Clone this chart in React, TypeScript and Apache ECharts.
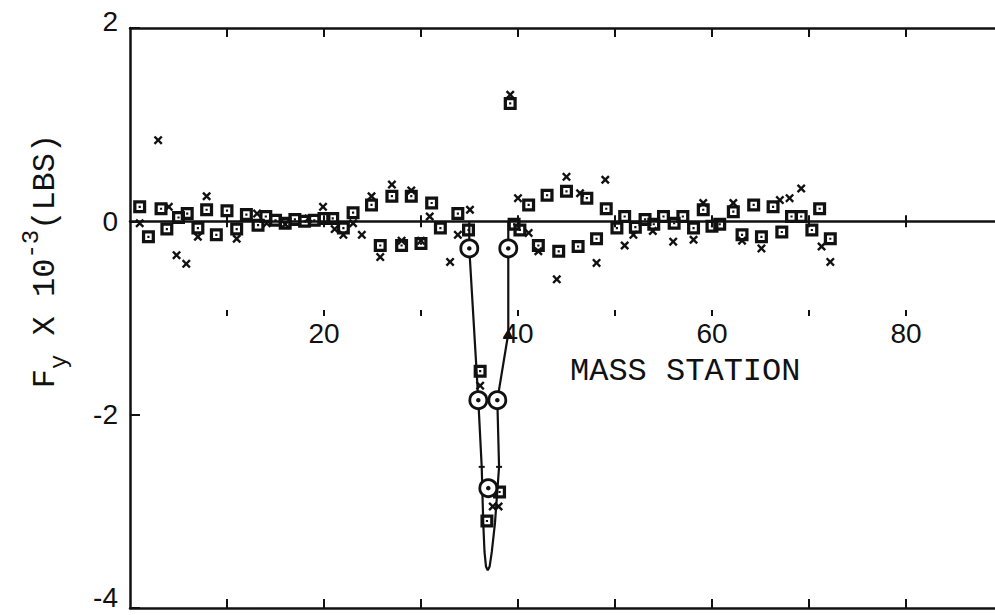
import React, { useEffect, useRef } from "react";
import * as echarts from "echarts";

// ---- axis ticks / labels ----
const xTickValues = [10, 20, 30, 40, 50, 60, 70, 80];
const xLabelValues = [20, 40, 60, 80];
const X_MIN = 0;
const X_MAX = 89.18;
const Y_MIN = -4;
const Y_MAX = 2;
const Y_STEP = 2;

// ---- measured points (squares) ----
const squareStations = [
  1.0, 1.9, 3.2, 3.8, 5.0, 5.9, 7.0, 7.9, 8.9, 10.0, 11.0, 12.0, 13.2, 14.0, 15.0, 16.0, 17.0, 18.0,
  19.0, 20.0, 20.9, 22.0, 23.0, 24.9, 25.8, 27.0, 28.0, 29.0, 30.0, 31.1, 32.0, 33.8, 34.9, 36.1,
  36.8, 38.1, 39.2, 39.6, 40.2, 41.1, 42.1, 43.0, 44.2, 45.0, 46.2, 47.1, 48.1, 49.1, 50.2, 51.0,
  52.1, 53.1, 54.0, 55.0, 56.1, 57.0, 58.1, 59.1, 60.0, 60.8, 62.2, 63.1, 64.3, 65.1, 66.3, 67.2,
  68.2, 69.2, 70.3, 71.1, 72.2,
];
const squareForces = [
  0.15, -0.16, 0.13, -0.08, 0.04, 0.08, -0.07, 0.12, -0.14, 0.11, -0.08, 0.07, -0.04, 0.05, 0.01,
  -0.02, 0.02, 0.0, 0.01, 0.03, 0.03, -0.07, 0.09, 0.17, -0.25, 0.26, -0.25, 0.26, -0.23, 0.19,
  -0.07, 0.08, -0.09, -1.55, -3.1, -2.8, 1.22, -0.03, -0.09, 0.17, -0.25, 0.27, -0.31, 0.31, -0.26,
  0.24, -0.18, 0.13, -0.07, 0.05, -0.06, 0.02, -0.03, 0.05, -0.02, 0.05, -0.07, 0.12, -0.05, -0.03,
  0.1, -0.14, 0.17, -0.16, 0.15, -0.11, 0.05, 0.05, -0.09, 0.13, -0.18,
];

// ---- measured points (crosses) ----
const crossStations = [
  1.0, 2.9, 4.0, 4.8, 5.8, 7.0, 7.9, 11.0, 13.1, 14.1, 16.0, 18.4, 19.9, 21.1, 22.0, 23.0, 23.9,
  24.9, 25.8, 27.0, 28.0, 29.0, 30.0, 30.9, 33.0, 33.8, 35.05, 36.1, 37.4, 38.0, 39.2, 40.0, 41.1,
  42.1, 44.0, 45.0, 46.4, 48.1, 49.0, 51.0, 51.9, 53.9, 56.0, 58.1, 59.1, 62.2, 63.1, 65.1, 67.0,
  68.0, 69.2, 71.3, 72.2,
];
const crossForces = [
  -0.02, 0.84, 0.15, -0.35, -0.44, -0.16, 0.26, -0.18, 0.08, -0.02, -0.03, 0.03, 0.15, -0.08, -0.14,
  -0.02, -0.14, 0.26, -0.37, 0.38, -0.2, 0.32, -0.2, 0.05, -0.42, -0.14, 0.12, -1.7, -2.95, -2.95,
  1.31, 0.24, -0.12, -0.31, -0.6, 0.46, 0.29, -0.43, 0.43, -0.25, -0.14, -0.1, -0.21, -0.19, 0.19,
  0.19, -0.2, -0.28, 0.22, 0.24, 0.34, -0.26, -0.42,
];

// ---- theory curve ----
const curveStations = [34.98, 34.98, 35.91, 36.26, 36.42, 36.55, 36.7, 36.88, 37.08, 37.3, 37.63, 38.05, 37.87, 39.0, 39.0, 39.0];
const curveForces = [0.0, -0.28, -1.85, -2.54, -3.12, -3.42, -3.57, -3.61, -3.57, -3.42, -3.12, -2.54, -1.85, -1.16, -0.28, 0.0];

// ---- circled points on curve ----
const circleStations = [34.98, 39.0, 35.91, 37.87, 36.94];
const circleForces = [-0.28, -0.28, -1.85, -1.85, -2.76];

// ---- small marks on curve ----
const triangleStations = [39.0];
const triangleForces = [-1.16];
const curveMarkStations = [36.26, 38.05];
const curveMarkForces = [-2.54, -2.54];

const zip = (a: number[], b: number[]) => a.map((v, i) => [v, b[i]]);

const INK = "#111";
const SQUARE = "path://M0,0H12V12H0Z M3,3V9H9V3H3Z M5,5H7V7H5Z";
const CROSS = "path://M0,1.5L1.5,0L4,2.5L6.5,0L8,1.5L5.5,4L8,6.5L6.5,8L4,5.5L1.5,8L0,6.5L2.5,4Z";

const GRID_TOP = 28;
const GRID_BOTTOM_PX = 608;
const GRID_H = GRID_BOTTOM_PX - GRID_TOP;
const zeroOffset = -(GRID_H * (0 - Y_MIN)) / (Y_MAX - Y_MIN);

function baseX(extra: any) {
  return {
    type: "value",
    min: X_MIN,
    max: X_MAX,
    gridIndex: 0,
    splitLine: { show: false },
    axisLabel: { show: false },
    axisTick: { show: false },
    axisLine: { show: false, onZero: false },
    ...extra,
  };
}

export default function App() {
  const ref = useRef<HTMLDivElement>(null);

  useEffect(() => {
    if (!ref.current) return;
    const chart = echarts.init(ref.current, undefined, { renderer: "svg" });
    const axisLineStyle = { color: INK, width: 2.5 };
    const tickStyle = { color: INK, width: 2 };
    const labelFont = "Liberation Sans, Arial, sans-serif";

    chart.setOption({
      animation: false,
      backgroundColor: "#fff",
      grid: {
        left: 130,
        top: GRID_TOP,
        right: 0,
        bottom: 615 - GRID_BOTTOM_PX,
        containLabel: false,
        outerBoundsMode: "none",
      },
      xAxis: [
        baseX({
          position: "bottom",
          axisLine: { show: true, onZero: false, lineStyle: axisLineStyle },
          axisTick: { show: true, inside: true, length: 9, customValues: xTickValues, lineStyle: tickStyle },
        }),
        baseX({
          position: "top",
          axisLine: { show: true, onZero: false, lineStyle: axisLineStyle },
          axisTick: { show: true, inside: true, length: 9, customValues: xTickValues, lineStyle: tickStyle },
        }),
        baseX({
          position: "bottom",
          offset: -298,
          axisTick: { show: true, inside: false, length: 6, customValues: xTickValues, lineStyle: tickStyle },
          axisLabel: {
            show: true,
            customValues: xLabelValues,
            margin: 9,
            fontSize: 28,
            fontFamily: labelFont,
            color: INK,
          },
        }),
        baseX({
          position: "bottom",
          offset: zeroOffset,
          axisLine: { show: true, onZero: false, lineStyle: axisLineStyle },
          axisTick: { show: true, inside: true, length: 6, customValues: xTickValues, lineStyle: tickStyle },
        }),
        baseX({
          position: "bottom",
          offset: zeroOffset,
          axisTick: { show: true, inside: false, length: 6, customValues: xTickValues, lineStyle: tickStyle },
        }),
      ],
      yAxis: {
        type: "value",
        min: Y_MIN,
        max: Y_MAX,
        interval: Y_STEP,
        splitLine: { show: false },
        axisLine: { show: true, onZero: false, lineStyle: axisLineStyle },
        axisTick: { show: true, inside: true, length: 10, lineStyle: tickStyle },
        axisLabel: {
          margin: 12,
          fontSize: 28,
          fontFamily: labelFont,
          color: INK,
          formatter: (v: number) =>
            v === Y_MIN ? `{lo|${v}}` : v === Y_MAX ? `{hi|${v}}` : String(v),
          rich: {
            lo: { fontSize: 28, fontFamily: labelFont, color: INK, padding: [0, 0, 22, 0] },
            hi: { fontSize: 28, fontFamily: labelFont, color: INK, padding: [0, 0, 14, 0] },
          },
        },
      },
      graphic: [
        {
          type: "text",
          x: 570,
          y: 371,
          style: {
            text: "MASS STATION",
            fontSize: 32,
            fontFamily: "Liberation Mono, DejaVu Sans Mono, monospace",
            fill: INK,
            align: "left",
            verticalAlign: "middle",
          },
        },
        {
          type: "text",
          x: 45,
          y: 261,
          rotation: Math.PI / 2,
          style: {
            text: "{m|F}{sub|y}{m| X 10}{sup|-3}{m|(LBS)}",
            align: "center",
            verticalAlign: "middle",
            fill: INK,
            rich: {
              m: { fontSize: 32, fontFamily: "Liberation Mono, monospace", lineHeight: 52, fill: INK },
              sub: { fontSize: 24, fontFamily: "Liberation Mono, monospace", lineHeight: 26, verticalAlign: "bottom", fill: INK },
              sup: { fontSize: 24, fontFamily: "Liberation Mono, monospace", lineHeight: 26, verticalAlign: "top", fill: INK },
            },
          },
        },
      ],
      series: [
        {
          type: "scatter",
          name: "squares",
          xAxisIndex: 0,
          data: zip(squareStations, squareForces),
          symbol: SQUARE,
          symbolSize: 13,
          itemStyle: { color: INK, opacity: 1 },
          z: 3,
        },
        {
          type: "scatter",
          name: "crosses",
          xAxisIndex: 0,
          data: zip(crossStations, crossForces),
          symbol: CROSS,
          symbolSize: 9,
          itemStyle: { color: INK, opacity: 1 },
          z: 4,
        },
        {
          type: "line",
          name: "curve",
          xAxisIndex: 0,
          data: zip(curveStations, curveForces),
          showSymbol: false,
          symbol: "none",
          lineStyle: { color: INK, width: 2.2 },
          z: 5,
        },
        {
          type: "scatter",
          name: "curveMarks",
          xAxisIndex: 0,
          data: zip(curveMarkStations, curveMarkForces),
          symbol: "rect",
          symbolSize: [6, 2],
          itemStyle: { color: INK, opacity: 1 },
          z: 6,
        },
        {
          type: "scatter",
          name: "triangle",
          xAxisIndex: 0,
          data: zip(triangleStations, triangleForces),
          symbol: "triangle",
          symbolSize: 10,
          itemStyle: { color: INK, opacity: 1 },
          z: 6,
        },
        {
          type: "scatter",
          name: "circles",
          xAxisIndex: 0,
          data: zip(circleStations, circleForces),
          symbol: "circle",
          symbolSize: 17,
          itemStyle: { color: "#fff", borderColor: INK, borderWidth: 2.8, opacity: 1 },
          z: 7,
        },
        {
          type: "scatter",
          name: "circleDots",
          xAxisIndex: 0,
          data: zip(circleStations, circleForces),
          symbol: "circle",
          symbolSize: 4.5,
          itemStyle: { color: INK, opacity: 1 },
          z: 8,
        },
      ],
    });
    return () => chart.dispose();
  }, []);

  return (
    <div
      ref={ref}
      style={{ position: "absolute", left: 0, top: 0, width: 995, height: 615, background: "#fff" }}
    />
  );
}
